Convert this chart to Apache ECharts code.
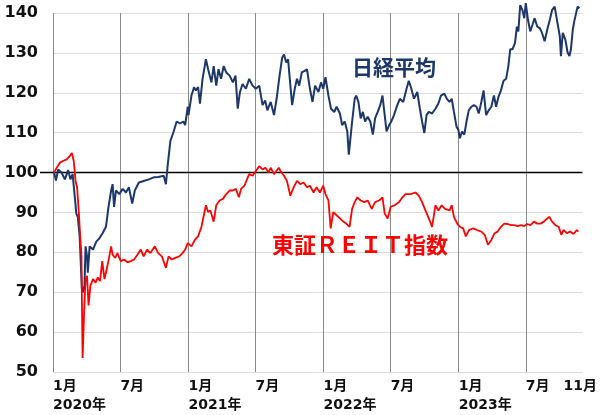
<!DOCTYPE html>
<html>
<head>
<meta charset="utf-8">
<script src="https://cdn.jsdelivr.net/npm/echarts@6.0.0/dist/echarts.min.js"></script>
<style>
html, body { margin: 0; padding: 0; background: #fff; }
#chart { width: 600px; height: 415px; }
</style>
</head>
<body>
<div id="chart"></div>
<script>
// index values (start = 100), x given as days since 2020-01-01
const nikkeiDay = [3, 8, 14, 23, 32, 41, 47, 53, 59, 63, 67, 72, 75, 78, 81, 85, 88, 92, 94, 99,
  108, 117, 125, 134, 143, 150, 157, 161, 165, 170, 179, 188, 197, 205, 214, 221, 232, 245, 259, 272,
  285, 299, 305, 310, 317, 326, 334, 343, 352, 357, 364, 366, 374, 381, 386, 392, 397, 404, 413, 419,
  428, 434, 441, 447, 454, 461, 468, 477, 486, 493, 499, 505, 512, 521, 530, 539, 548, 557, 566, 573,
  579, 588, 597, 604, 612, 619, 624, 630, 635, 638, 646, 653, 659, 665, 672, 680, 686, 694, 701, 708,
  717, 724, 730, 736, 744, 751, 760, 766, 775, 781, 788, 795, 799, 808, 815, 819, 825, 831, 837, 843,
  850, 857, 864, 870, 877, 884, 890, 895, 901, 908, 914, 921, 930, 937, 946, 955, 961, 968, 975, 984,
  991, 997, 1003, 1009, 1015, 1024, 1033, 1041, 1048, 1057, 1064, 1071, 1077, 1083, 1090, 1095, 1099, 1105, 1111, 1117,
  1123, 1130, 1137, 1144, 1150, 1157, 1163, 1170, 1177, 1184, 1191, 1197, 1203, 1210, 1217, 1224, 1230, 1235, 1241, 1248,
  1253, 1257, 1262, 1268, 1273, 1277, 1283, 1289, 1295, 1301, 1308, 1315, 1321, 1328, 1335, 1342, 1348, 1355, 1362, 1369,
  1372, 1377, 1384, 1390, 1395, 1399, 1404, 1408, 1413, 1417, 1422]
const nikkeiVal = [100, 98, 100.8, 100, 98.3, 100.6, 98.3, 99.6, 93.8, 89.7, 88.9, 84, 77.4, 70.8, 70, 71.6, 81.5, 79, 74.9, 81.5,
  80.7, 82.7, 83.5, 84.8, 86.4, 91.4, 95.5, 97.1, 91.4, 95.5, 94.6, 95.9, 95, 96.3, 92.2, 95.5, 97.5, 97.9, 98.3, 98.8,
  98.9, 99.2, 97.1, 102, 107.9, 110.3, 112.8, 112.3, 112.8, 111.9, 116.5, 114.4, 119.3, 121.4, 120.6, 121.4, 117.3, 123.5, 128.4, 125.9,
  122.6, 126.7, 121.8, 125.9, 123.5, 126.7, 125.1, 124.3, 122.6, 124.3, 116, 120.2, 122.2, 121, 123.5, 121.8, 121, 121.8, 116.9, 118.1,
  115.6, 117.7, 114.4, 118.5, 124.3, 128.8, 129.6, 127.6, 128.4, 125.1, 116.9, 121, 123.5, 121.8, 125.1, 125.5, 125.9, 121, 117.7, 121.8,
  120.2, 122.6, 121, 123.9, 119.3, 116, 115.2, 116.5, 114.8, 111.9, 112.8, 110.3, 104.5, 112.8, 118.5, 119.3, 117.7, 113.6, 115.2, 112.8,
  114, 112.8, 109.5, 113.6, 115.2, 116.9, 119.3, 115.2, 110.3, 111.9, 112.8, 114.4, 116.9, 118.5, 117.7, 121, 123, 121, 118.5, 120.2,
  116, 112.8, 109.9, 114.4, 115.2, 114.8, 116, 117.3, 119.3, 119.8, 118.5, 117.7, 118.5, 115.2, 111.5, 110.7, 108.6, 110.3, 109.5, 112.8,
  115.6, 116.5, 116.9, 116.5, 114.8, 117.7, 120.6, 114.4, 115.6, 116.5, 119.3, 116.5, 118.9, 120.6, 123, 123.5, 126.7, 130.9, 130.9, 132.5,
  136.6, 135.4, 142, 140.7, 138.7, 142.5, 138.3, 135.4, 137, 138.7, 136.6, 136.2, 135, 132.9, 135.8, 138.3, 140.7, 141.6, 137.9, 134.1,
  129.2, 135, 133.3, 130.1, 129.2, 130.9, 135.8, 137.9, 138.3, 141.6, 141.2]

const reitDay = [3, 10, 19, 27, 37, 45, 51, 56, 61, 65, 70, 74, 77, 78, 80, 84, 88, 92, 96, 101,
  108, 115, 121, 127, 133, 139, 145, 152, 157, 161, 168, 174, 183, 192, 201, 210, 219, 228, 237, 245,
  254, 263, 275, 284, 294, 305, 312, 321, 330, 341, 350, 357, 364, 374, 383, 392, 401, 413, 419, 425,
  434, 441, 450, 459, 468, 477, 486, 494, 502, 508, 517, 524, 530, 539, 548, 557, 566, 574, 582, 588,
  597, 603, 610, 617, 624, 632, 641, 650, 659, 668, 677, 686, 694, 704, 712, 721, 730, 736, 744, 750,
  757, 766, 775, 784, 792, 801, 808, 815, 822, 831, 841, 850, 861, 870, 881, 890, 896, 904, 912, 923,
  935, 944, 952, 966, 979, 988, 997, 1006, 1017, 1024, 1033, 1041, 1050, 1059, 1071, 1077, 1083, 1092, 1099, 1108,
  1115, 1124, 1135, 1145, 1157, 1166, 1175, 1184, 1193, 1201, 1210, 1219, 1228, 1237, 1246, 1255, 1264, 1273, 1281, 1290,
  1299, 1308, 1317, 1326, 1335, 1341, 1348, 1357, 1366, 1373, 1379, 1388, 1397, 1406, 1415, 1419]
const reitVal = [100, 101.2, 102.5, 102.9, 103.3, 104.1, 104.9, 102.9, 97.9, 96.3, 89.7, 83.1, 79, 68.3, 53.5, 65, 73.3, 74.1, 66.7, 71.6,
  73.3, 72.4, 73.7, 72.8, 77.8, 73.3, 75.7, 79, 81.5, 79.4, 78.6, 79.8, 77.8, 78.2, 77.5, 77.8, 78.2, 79.4, 80.7, 79,
  80.7, 79.8, 81.5, 79.8, 79, 76.1, 79, 78.2, 78.6, 79, 79.8, 80.7, 82.3, 81.5, 83.1, 84, 86.4, 91.8, 90.1, 90.5,
  87.7, 91.8, 93, 93.4, 94.6, 95.5, 95.5, 95.9, 93.8, 95.9, 96.7, 98.3, 99.6, 99.2, 100.4, 101.6, 100.8, 101.2, 100, 101.2,
  99.6, 100.4, 101.2, 100, 99.2, 97.9, 94.2, 96.3, 97.9, 97.1, 97.5, 96.3, 96.7, 95, 96.3, 95, 96.7, 94.6, 93, 86,
  90.1, 89.3, 88.5, 87.7, 87.2, 86.4, 90.9, 92.6, 93.8, 93, 92.6, 93, 90.9, 92.6, 93, 93.8, 89.7, 88.5, 91.4, 91.8,
  92.6, 93.8, 94.6, 94.6, 95, 94.2, 92.6, 90.5, 88.1, 86.4, 91.8, 90.5, 91.8, 90.9, 90.5, 91.8, 88.9, 87.2, 86.4, 86,
  84, 85.6, 86, 85.6, 85.2, 84.4, 81.9, 83.1, 84.8, 85.2, 86.4, 87.2, 87.1, 86.8, 86.8, 86.6, 86.8, 86.6, 87.1, 86.8,
  87.7, 87.2, 87.2, 87.7, 88.5, 88.9, 87.7, 86.8, 86.4, 84.4, 85.6, 84.8, 85.2, 84.6, 85.6, 85.2]

const tickDates = ['2020-01-01', '2020-07-01', '2021-01-01', '2021-07-01', '2022-01-01', '2022-07-01', '2023-01-01', '2023-07-01', '2023-10-11']
const tickLabels = ['1月\n2020年', '7月', '1月\n2021年', '7月', '1月\n2022年', '7月', '1月\n2023年', '7月', '11月']
const gridDates = ['2020-01-01', '2020-07-01', '2021-01-01', '2021-07-01', '2022-01-01', '2022-07-01', '2023-01-01', '2023-07-01']
const baseLevel = 100

// one category per calendar day
const days = []
const t0 = Date.UTC(2020, 0, 1)
for (let i = 0; i <= 1430; i++) {
  days.push(new Date(t0 + i * 86400000).toISOString().slice(0, 10))
}

const fontLatin = '"DejaVu Sans", "Noto Sans CJK JP", sans-serif'
const fontJp = '"Noto Sans CJK JP", sans-serif'

const chart = echarts.init(document.getElementById('chart'), null, { renderer: 'canvas' })

const option = {
  animation: false,
  grid: { left: 53, right: 11, top: 13, bottom: 37 },
  xAxis: {
    type: 'category',
    data: days,
    boundaryGap: false,
    axisLine: { show: false },
    axisTick: { show: false },
    axisLabel: {
      interval: (i, v) => tickDates.includes(v),
      formatter: v => tickLabels[tickDates.indexOf(v)],
      align: 'left',
      margin: 5,
      fontSize: 14,
      fontWeight: 'bold',
      lineHeight: 19,
      color: '#111',
      fontFamily: fontLatin
    },
    splitLine: {
      show: true,
      interval: (i, v) => gridDates.includes(v),
      lineStyle: { color: '#8a8a8a', width: 1 }
    }
  },
  yAxis: {
    type: 'value',
    min: 50,
    max: 140,
    interval: 10,
    axisLine: { show: false },
    axisTick: { show: false },
    axisLabel: {
      margin: 15,
      fontSize: 16,
      fontWeight: 'bold',
      color: '#111',
      fontFamily: fontLatin
    },
    splitLine: { lineStyle: { color: '#dcdcdc', width: 1 } }
  },
  series: [{
    name: '日経平均',
    type: 'line',
    clip: false,
    symbol: 'none',
    data: nikkeiDay.map((d, i) => [d, nikkeiVal[i]]),
    lineStyle: { color: '#1c3768', width: 2 },
    z: 3
  }, {
    name: '東証REIT指数',
    type: 'line',
    clip: false,
    symbol: 'none',
    data: reitDay.map((d, i) => [d, reitVal[i]]),
    lineStyle: { color: '#ff0000', width: 1.8 },
    z: 4
  }]
}

chart.setOption(option)

// base line at 100, drawn a bit past the left edge like the original
const y100 = chart.convertToPixel({ yAxisIndex: 0 }, baseLevel)
const xEnd = chart.convertToPixel({ xAxisIndex: 0 }, days.length - 1)
chart.setOption({
  graphic: [{
    type: 'line',
    z: 2,
    shape: { x1: 40, y1: y100, x2: xEnd, y2: y100 },
    style: { stroke: '#000', lineWidth: 1.5 }
  }, {
    type: 'text',
    left: 352,
    top: 57,
    z: 5,
    style: { text: '日経平均', fontSize: 21, fontWeight: 'bold', fill: '#1c3768', fontFamily: fontJp }
  }, {
    type: 'text',
    left: 272,
    top: 234,
    z: 5,
    style: { text: '東証ＲＥＩＴ指数', fontSize: 22, fontWeight: 'bold', fill: '#ff0000', fontFamily: fontJp }
  }]
})
</script>
</body>
</html>
